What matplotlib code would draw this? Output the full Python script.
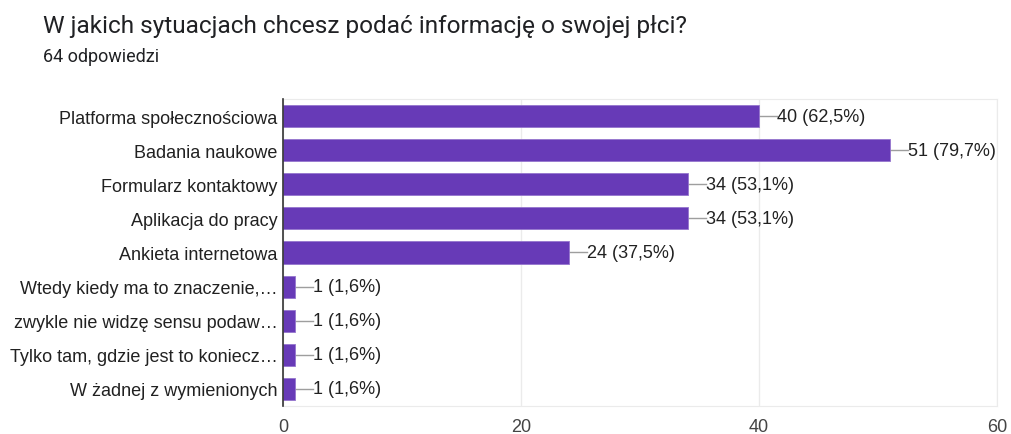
import matplotlib
matplotlib.use("Agg")
import matplotlib.pyplot as plt

title = "W jakich sytuacjach chcesz podać informację o swojej płci?"
subtitle = "64 odpowiedzi"
categories = [
    "Platforma społecznościowa",
    "Badania naukowe",
    "Formularz kontaktowy",
    "Aplikacja do pracy",
    "Ankieta internetowa",
    "Wtedy kiedy ma to znaczenie,…",
    "zwykle nie widzę sensu podaw…",
    "Tylko tam, gdzie jest to koniecz…",
    "W żadnej z wymienionych",
]
counts = [40, 51, 34, 34, 24, 1, 1, 1, 1]
percents = ["62,5", "79,7", "53,1", "53,1", "37,5", "1,6", "1,6", "1,6", "1,6"]
xticks = [0, 20, 40, 60]

W, H = 1011, 435
fig = plt.figure(figsize=(W / 100, H / 100), dpi=100)
ax = fig.add_axes([283 / W, 1 - 407 / H, (997 - 283) / W, (407 - 100) / H])

ypos = list(range(len(categories)))
ax.barh(ypos, counts, height=0.65, color="#673AB7", edgecolor="#9575CD", linewidth=0.6, zorder=3)
ax.set_ylim(len(categories) - 0.5, -0.5)
ax.set_xlim(0, 60)

px = 60 / (997 - 283)  # data units per pixel
for y, c, p in zip(ypos, counts, percents):
    ax.plot([c, c + 18 * px], [y, y], color="#9e9e9e", lw=1, zorder=2, clip_on=False)
    ax.text(c + 18 * px, y, f"{c} ({p}%)", va="center", ha="left",
            fontsize=13, color="#212121", family="Liberation Sans")

ax.set_yticks(ypos)
ax.set_yticklabels(categories, fontsize=13, color="#212121", family="Liberation Sans")
ax.set_xticks(xticks)
ax.set_xticklabels([str(t) for t in xticks], fontsize=13, color="#444444", family="Liberation Sans")
ax.tick_params(axis="both", length=0)
ax.tick_params(axis="y", pad=4)
ax.tick_params(axis="x", pad=9)
ax.grid(axis="x", color="#ebebeb", lw=1, zorder=0)
for s in ["top", "right", "bottom"]:
    ax.spines[s].set_color("#ebebeb")
ax.spines["left"].set_color("#333333")
ax.spines["left"].set_linewidth(1.2)
ax.spines["left"].set_zorder(4)

fig.text(43 / W, 1 - 26 / H, title, fontsize=17.6, color="#202124", family="Roboto", va="center", ha="left")
fig.text(43 / W, 1 - 57 / H, subtitle, fontsize=13, color="#202124", family="Roboto", va="center", ha="left")

fig.savefig("out.png", dpi=100, facecolor="white")
